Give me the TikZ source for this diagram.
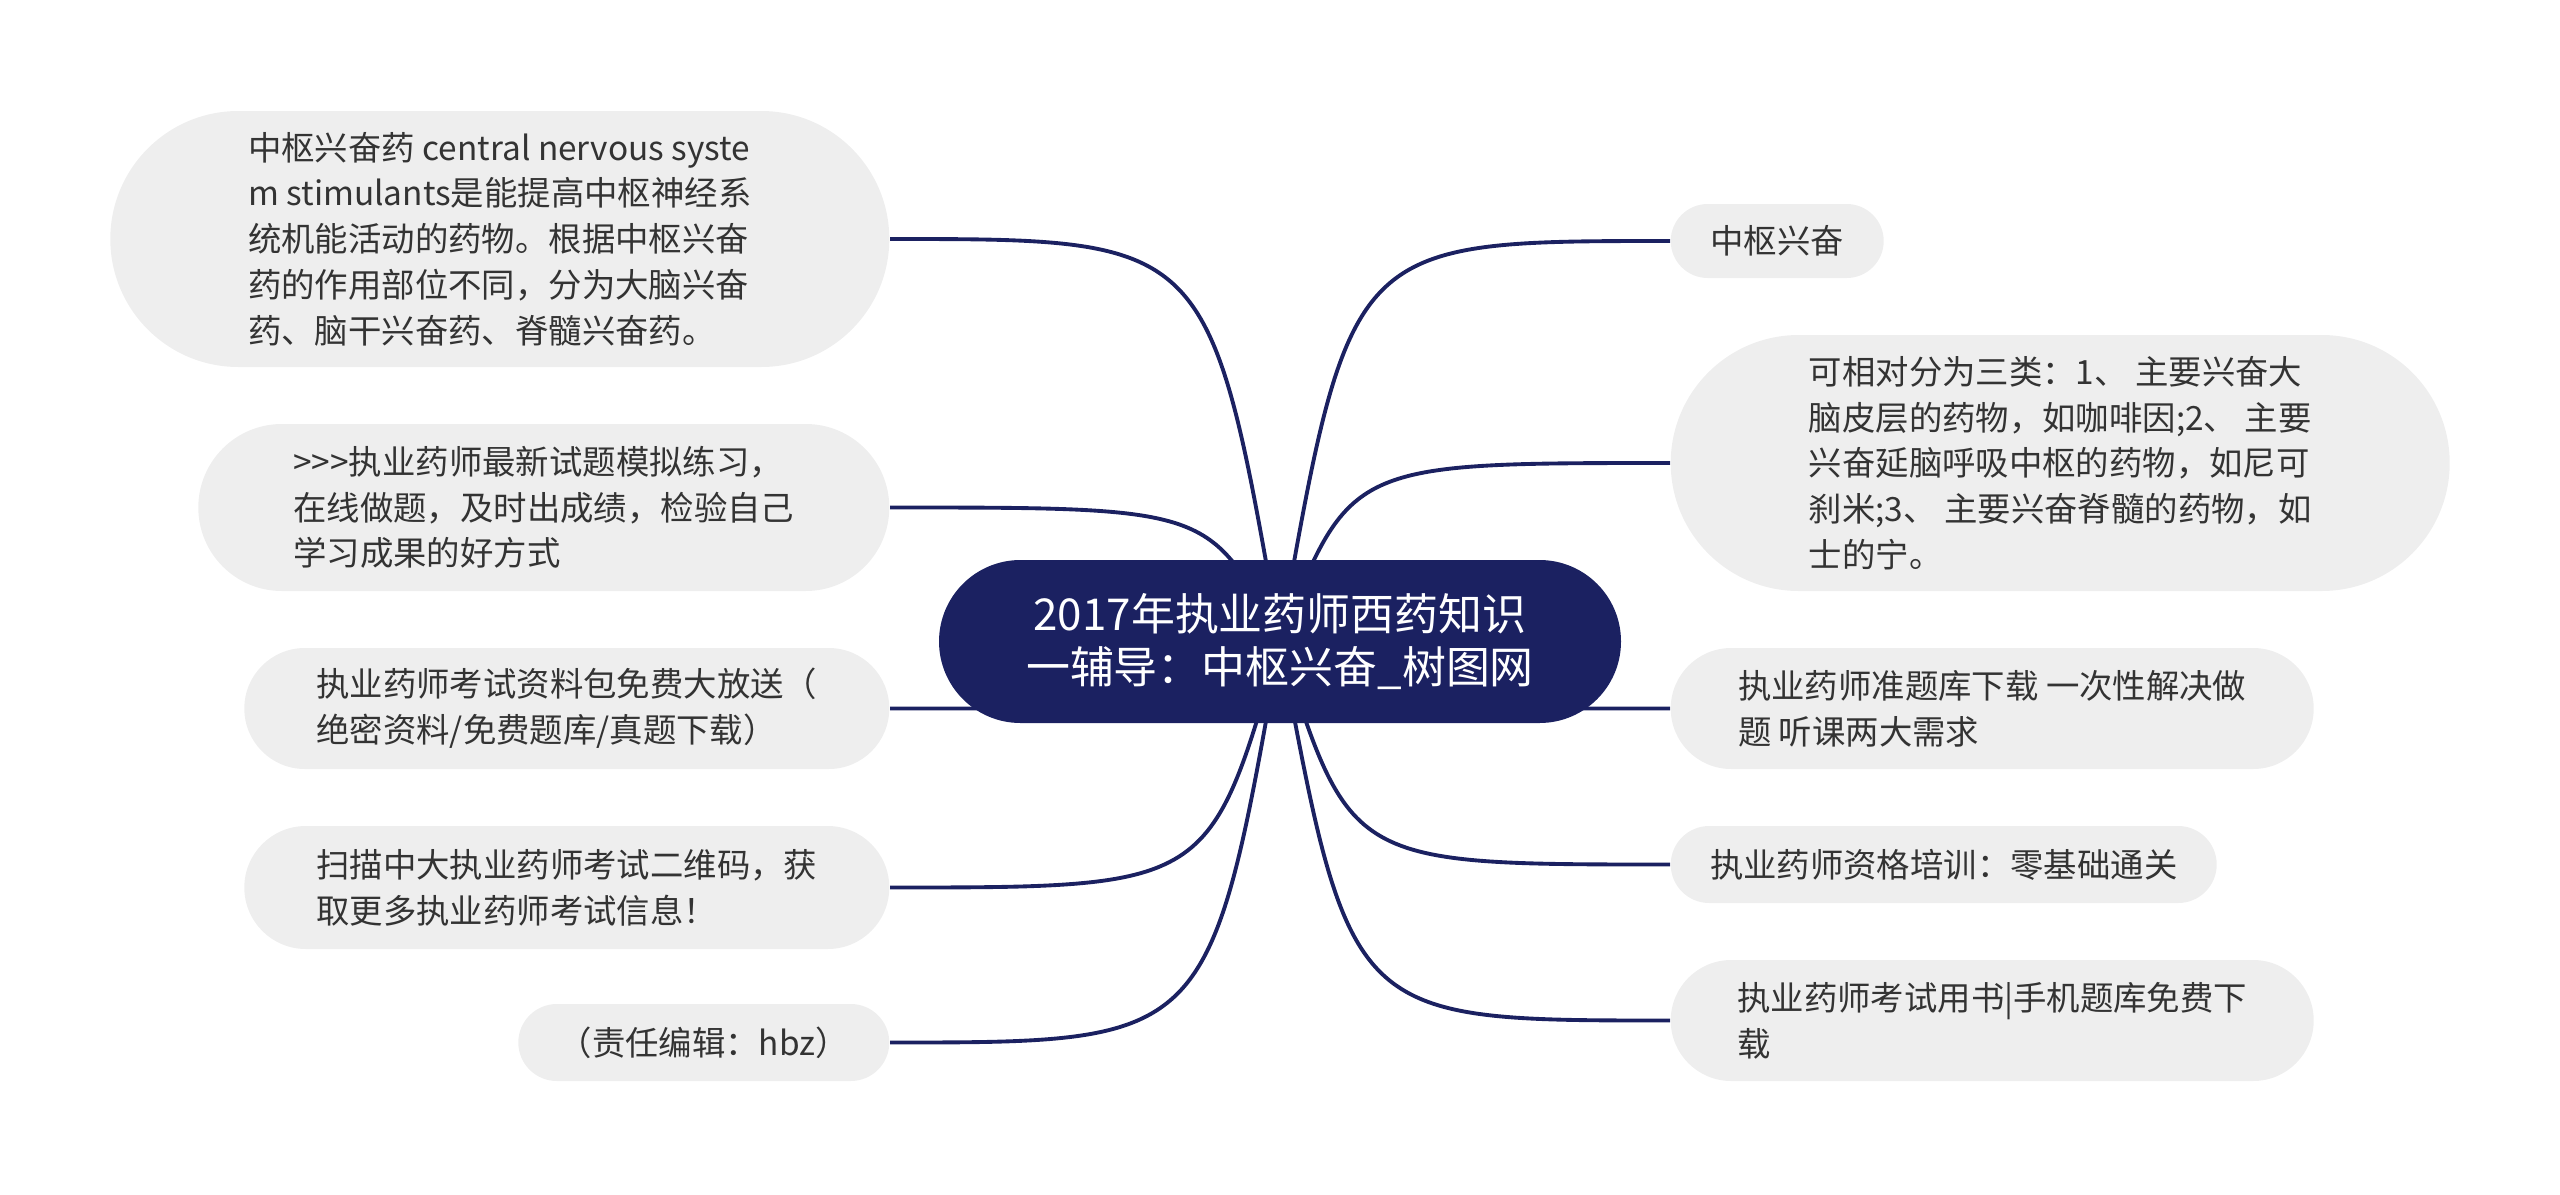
\documentclass[tikz,border=0pt]{standalone}
\usepackage{fontspec}
\setmainfont{Noto Sans CJK SC}
\usepackage{xcolor}
\usepackage{tikz}
\usetikzlibrary{shapes.misc, calc, backgrounds}
\definecolor{navy}{HTML}{1B2161}
\definecolor{leafgray}{HTML}{EEEEEE}
\definecolor{textgray}{HTML}{333333}
\tikzset{
  rootnode/.style={rounded rectangle, fill=navy, text=white, align=center, inner xsep=0pt, inner ysep=2pt, font=\fontsize{12.5pt}{15.3pt}\selectfont},
  leafnode/.style={rounded rectangle, fill=leafgray, text=textgray, align=left, inner xsep=0pt, inner ysep=2pt, font=\fontsize{9.5pt}{13pt}\selectfont},
  link/.style={draw=navy, line width=1.1pt}
}

\begin{document}
\begin{tikzpicture}
\useasboundingbox (0,0) rectangle (25.6,-11.95);

% Nodes
\node[rootnode, minimum width=6.82cm, minimum height=1.63cm] (C) at (12.8,-6.415) {2017年执业药师西药知识\\一辅导：中枢兴奋\_树图网};

\node[leafnode, anchor=east, minimum width=7.79cm, minimum height=2.56cm] (L1) at (8.9,-2.39) {中枢兴奋药 central nervous syste\\m stimulants是能提高中枢神经系\\统机能活动的药物。根据中枢兴奋\\药的作用部位不同，分为大脑兴奋\\药、脑干兴奋药、脊髓兴奋药。};
\node[leafnode, anchor=east, minimum width=6.91cm, minimum height=1.67cm] (L2) at (8.9,-5.075) {>{}>{}>执业药师最新试题模拟练习，\\在线做题，及时出成绩，检验自己\\学习成果的好方式};
\node[leafnode, anchor=east, minimum width=6.45cm, minimum height=1.21cm] (L3) at (8.9,-7.085) {执业药师考试资料包免费大放送（\\绝密资料/免费题库/真题下载）};
\node[leafnode, anchor=east, minimum width=6.45cm, minimum height=1.23cm] (L4) at (8.9,-8.875) {扫描中大执业药师考试二维码，获\\取更多执业药师考试信息！};
\node[leafnode, anchor=east, minimum width=3.71cm, minimum height=0.77cm] (L5) at (8.9,-10.425) {（责任编辑：hbz）};

\node[leafnode, anchor=west, minimum width=2.13cm, minimum height=0.74cm] (R1) at (16.7,-2.41) {中枢兴奋};
\node[leafnode, anchor=west, minimum width=7.79cm, minimum height=2.56cm] (R2) at (16.7,-4.63) {可相对分为三类：1、 主要兴奋大\\脑皮层的药物，如咖啡因;2、 主要\\兴奋延脑呼吸中枢的药物，如尼可\\刹米;3、 主要兴奋脊髓的药物，如\\士的宁。};
\node[leafnode, anchor=west, minimum width=6.43cm, minimum height=1.21cm] (R3) at (16.7,-7.085) {执业药师准题库下载 一次性解决做\\题 听课两大需求};
\node[leafnode, anchor=west, minimum width=5.46cm, minimum height=0.77cm] (R4) at (16.7,-8.645) {执业药师资格培训：零基础通关};
\node[leafnode, anchor=west, minimum width=6.43cm, minimum height=1.21cm] (R5) at (16.7,-10.205) {执业药师考试用书|手机题库免费下\\载};

% Connections
\begin{scope}[on background layer]
\draw[link] (C.center) .. controls ($(C.center |- L1.east)+(-0.7,0)$) .. (L1.east);
\draw[link] (C.center) .. controls ($(C.center |- L2.east)+(-0.7,0)$) .. (L2.east);
\draw[link] (C.center) .. controls ($(C.center |- L3.east)+(-0.7,0)$) .. (L3.east);
\draw[link] (C.center) .. controls ($(C.center |- L4.east)+(-0.7,0)$) .. (L4.east);
\draw[link] (C.center) .. controls ($(C.center |- L5.east)+(-0.7,0)$) .. (L5.east);
\draw[link] (C.center) .. controls ($(C.center |- R1.west)+(0.7,0)$) .. (R1.west);
\draw[link] (C.center) .. controls ($(C.center |- R2.west)+(0.7,0)$) .. (R2.west);
\draw[link] (C.center) .. controls ($(C.center |- R3.west)+(0.7,0)$) .. (R3.west);
\draw[link] (C.center) .. controls ($(C.center |- R4.west)+(0.7,0)$) .. (R4.west);
\draw[link] (C.center) .. controls ($(C.center |- R5.west)+(0.7,0)$) .. (R5.west);
\end{scope}

\end{tikzpicture}
\end{document}
